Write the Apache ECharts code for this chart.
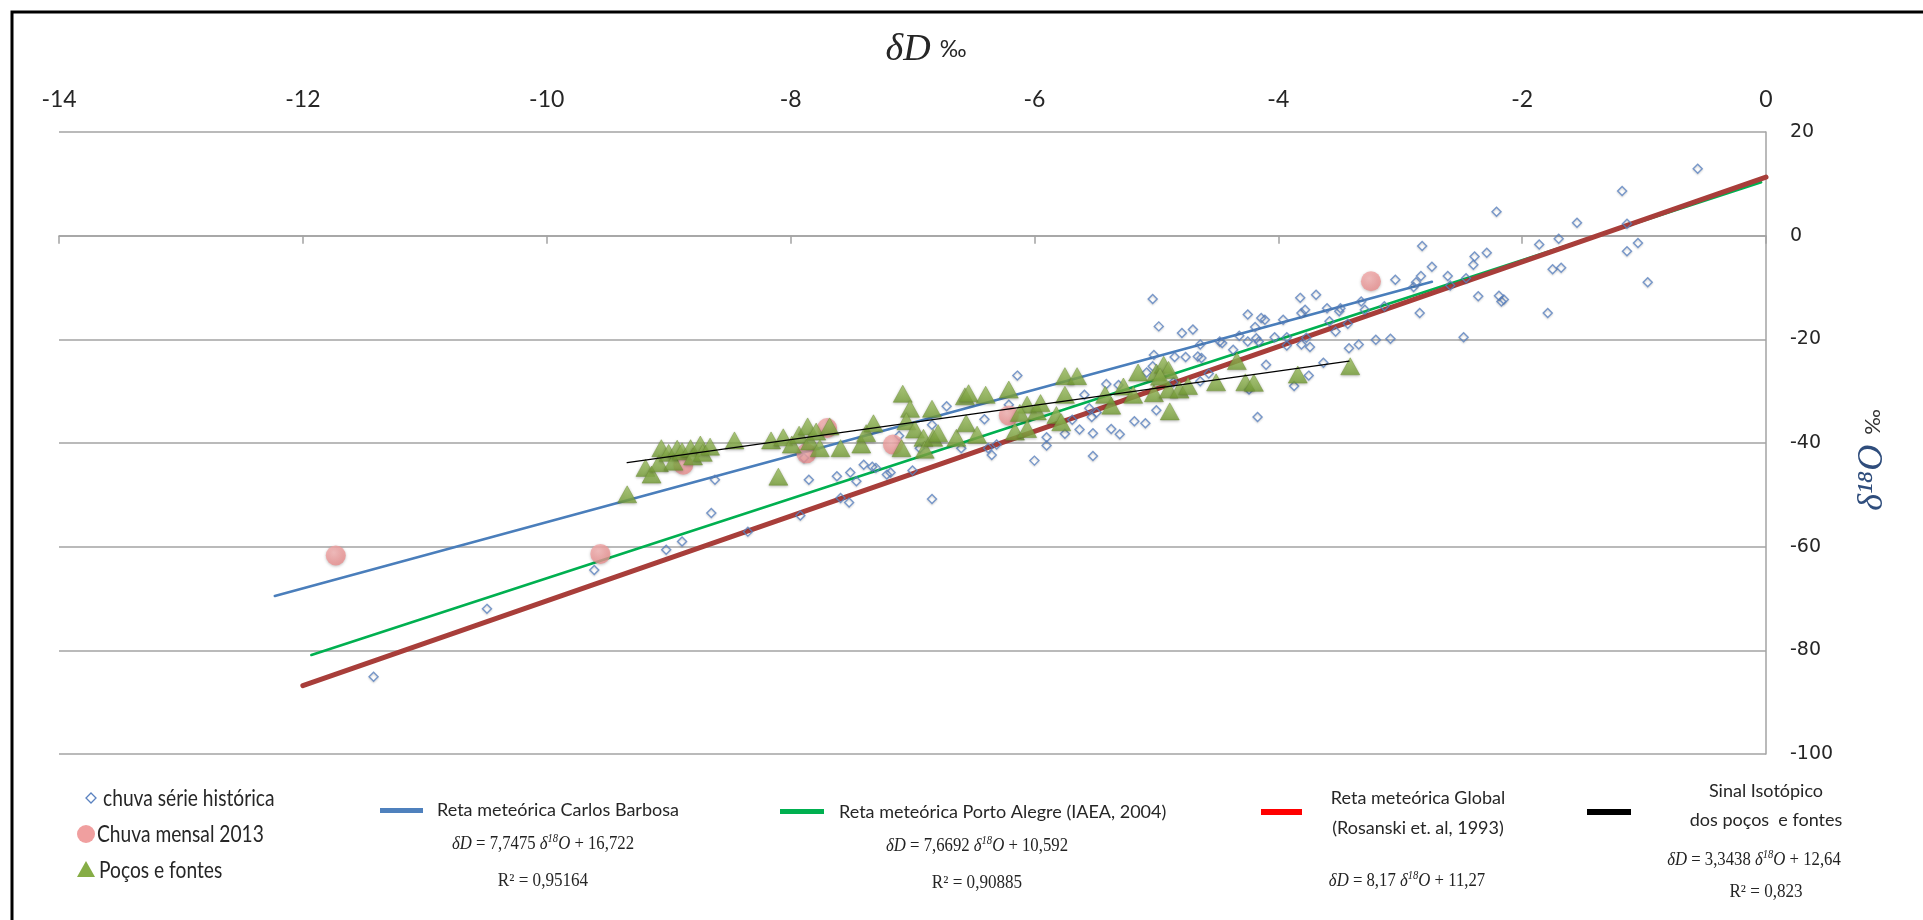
<!DOCTYPE html>
<html>
<head>
<meta charset="utf-8">
<script src="https://cdn.jsdelivr.net/npm/echarts@6/dist/echarts.min.js"></script>
<style>
  html, body { margin: 0; padding: 0; background: #ffffff; }
  #chart { width: 1923px; height: 920px; }
</style>
</head>
<body>
<div id="chart"></div>
<script>
// Axis ranges: [min, max, interval]
const xTickRange = [-14, 0, 2];
const yTickRange = [-100, 20, 20];

// Historical rainfall samples [δ18O, δD]
const historicalRain = [
  [-11.42, -85.1], [-10.49, -72.0], [-9.61, -64.5], [-9.02, -60.6],
  [-8.62, -47.1], [-8.65, -53.5], [-8.89, -59.0], [-8.35, -57.1], [-7.92, -54.0],
  [-7.89, -42.9], [-7.85, -47.1], [-7.62, -46.4], [-7.59, -50.6], [-7.52, -51.5],
  [-7.51, -45.7], [-7.46, -47.4], [-7.40, -44.2], [-7.33, -44.6], [-7.30, -44.8],
  [-7.21, -46.1], [-7.18, -45.7], [-7.00, -45.3], [-6.84, -50.8], [-7.11, -38.6],
  [-6.94, -41.0], [-6.84, -36.5], [-6.72, -32.9], [-6.60, -41.0], [-6.41, -35.4],
  [-6.38, -41.0], [-6.35, -42.3], [-6.31, -40.3],
  [-6.14, -27.0], [-5.03, -12.2], [-4.98, -17.5], [-4.79, -18.8], [-4.70, -18.1],
  [-4.64, -21.0], [-5.02, -23.0], [-4.85, -23.4], [-4.76, -23.4], [-4.66, -23.3],
  [-4.63, -23.6], [-4.57, -26.6], [-5.08, -26.4], [-5.03, -25.2], [-5.41, -28.6],
  [-5.31, -28.8], [-5.59, -30.7], [-5.55, -33.3], [-5.53, -35.0], [-5.49, -34.1],
  [-5.63, -37.4], [-5.52, -38.1], [-5.75, -38.2], [-5.90, -38.9], [-5.90, -40.5],
  [-6.00, -43.4], [-5.52, -42.5], [-5.37, -37.3], [-5.30, -38.3], [-5.18, -35.8],
  [-5.09, -36.2], [-5.00, -33.7], [-4.86, -28.3], [-5.69, -35.5], [-6.21, -32.6],
  [-4.64, -28.1], [-4.48, -20.4], [-4.46, -20.7], [-4.37, -22.0], [-4.32, -19.3],
  [-4.25, -15.2], [-4.19, -17.6], [-4.18, -19.8], [-4.11, -16.2], [-4.14, -15.9],
  [-4.25, -20.4], [-4.16, -20.4], [-4.10, -24.9], [-4.03, -19.6], [-3.96, -16.2],
  [-3.93, -19.6], [-3.93, -21.2], [-3.82, -12.0], [-3.78, -14.3], [-3.81, -14.9],
  [-3.69, -11.4], [-3.81, -21.0], [-3.74, -21.5], [-3.77, -19.7], [-3.60, -14.0],
  [-3.58, -16.5], [-3.49, -14.0], [-3.50, -14.6], [-3.53, -18.5], [-3.43, -17.0],
  [-3.42, -21.7], [-3.34, -21.0], [-3.32, -12.7], [-3.29, -14.3], [-3.20, -20.1],
  [-3.63, -24.5], [-3.75, -27.0], [-3.87, -29.0], [-4.17, -35.0], [-4.24, -29.7],
  [-0.56, 12.9], [-1.18, 8.6], [-1.14, 2.3], [-1.14, -3.0], [-1.05, -1.4],
  [-0.97, -9.0], [-1.55, 2.5], [-1.70, -0.6], [-1.86, -1.7], [-1.75, -6.5],
  [-1.68, -6.2], [-1.79, -14.9], [-2.21, 4.6], [-2.29, -3.3], [-2.39, -4.0],
  [-2.40, -5.6], [-2.46, -8.2], [-2.61, -7.8], [-2.59, -9.6], [-2.74, -6.0],
  [-2.82, -2.0], [-2.83, -7.8], [-2.89, -9.9], [-2.87, -9.0], [-3.04, -8.5],
  [-3.13, -13.6], [-2.84, -14.9], [-3.08, -19.9], [-2.48, -19.6], [-2.36, -11.7],
  [-2.19, -11.6], [-2.17, -12.7], [-2.15, -12.3]
];

// Monthly rainfall 2013 [δ18O, δD]
const monthlyRain2013 = [
  [-11.73, -61.7], [-9.56, -61.4], [-8.88, -44.2], [-7.87, -42.0],
  [-7.70, -37.1], [-7.16, -40.3], [-6.21, -34.7], [-3.24, -8.8]
];

// Wells and springs [δ18O, δD]
const wellsAndSprings = [
  [-9.34, -49.9], [-9.19, -44.8], [-9.14, -46.1], [-9.08, -43.9], [-9.06, -41.0],
  [-9.00, -41.9], [-8.96, -43.6], [-8.93, -41.1], [-8.89, -41.6], [-8.82, -41.0],
  [-8.80, -42.6], [-8.74, -40.3], [-8.72, -41.9], [-8.66, -40.7], [-8.46, -39.5],
  [-8.16, -39.5], [-8.10, -46.5], [-8.06, -38.9], [-7.99, -40.3], [-7.93, -38.4],
  [-7.86, -36.8], [-7.84, -39.7], [-7.79, -37.8], [-7.76, -41.0], [-7.68, -36.8],
  [-7.59, -41.0], [-7.42, -40.3], [-7.38, -38.1], [-7.32, -36.2], [-7.08, -30.5],
  [-7.02, -33.4], [-7.09, -41.0], [-7.05, -35.8], [-6.98, -37.4], [-6.91, -39.0],
  [-6.90, -41.3], [-6.84, -33.4], [-6.83, -39.0], [-6.79, -38.1], [-6.64, -39.0],
  [-6.57, -31.0], [-6.54, -30.4], [-6.56, -36.2], [-6.47, -38.4], [-6.40, -30.7],
  [-6.21, -29.7], [-5.75, -27.1], [-5.65, -27.1], [-5.75, -30.7], [-6.06, -32.6],
  [-5.98, -33.9], [-5.95, -32.3], [-6.12, -34.2], [-6.16, -37.8], [-6.06, -37.3],
  [-5.82, -34.6], [-5.78, -36.0], [-5.37, -32.8], [-5.42, -30.7], [-5.27, -29.1],
  [-5.19, -30.7], [-5.15, -26.4], [-5.00, -26.4], [-4.94, -24.9], [-4.90, -25.9],
  [-5.02, -30.4], [-4.90, -29.7], [-4.81, -29.7], [-4.74, -29.0], [-4.89, -33.9],
  [-4.51, -28.3], [-4.34, -24.2], [-4.27, -28.3], [-4.20, -28.4], [-3.84, -26.8],
  [-3.41, -25.2], [-4.97, -27.2]
];

// Meteoric water lines, end points [δ18O, δD]
const lineCarlosBarbosa = [[-12.23, -69.5], [-2.74, -8.9]];
const linePortoAlegre = [[-11.93, -80.9], [-0.04, 10.3]];
const lineGlobal = [[-12.0, -86.8], [0, 11.3]];
const lineWells = [[-9.34, -43.8], [-3.42, -24.2]];

// Legend texts
const scatterLegend = ['chuva série histórica', 'Chuva mensal 2013', 'Poços e fontes'];
const lineLegend = [
  'Reta meteórica Carlos Barbosa',
  'Reta meteórica Porto Alegre (IAEA, 2004)',
  ['Reta meteórica Global', '(Rosanski et. al, 1993)'],
  ['Sinal Isotópico', 'dos poços  e fontes']
];
const equations = [
  ['7,7475', '16,722', 'R² = 0,95164'],
  ['7,6692', '10,592', 'R² = 0,90885'],
  ['8,17', '11,27', ''],
  ['3,3438', '12,64', 'R² = 0,823']
];

const chart = echarts.init(document.getElementById('chart'), null, { renderer: 'canvas' });

const sans = 'Lato, "Open Sans", sans-serif';
const serif = '"Liberation Serif", "DejaVu Serif", serif';
const greyLine = '#a3a3a3';
const textColor = '#262626';

const diamondStyle = {
  color: 'rgba(255,255,255,0)',
  borderColor: '#5a82c0',
  borderWidth: 1.4,
  shadowBlur: 2,
  shadowColor: 'rgba(0,0,0,0.25)',
  shadowOffsetY: 1
};
const circleStyle = {
  color: new echarts.graphic.RadialGradient(0.4, 0.35, 0.7, [
    { offset: 0, color: '#f8b6b6' },
    { offset: 1, color: '#ea8b8b' }
  ]),
  shadowBlur: 3,
  shadowColor: 'rgba(0,0,0,0.3)',
  shadowOffsetY: 1
};
const triangleStyle = {
  color: new echarts.graphic.LinearGradient(0, 0, 0, 1, [
    { offset: 0, color: '#a6c968' },
    { offset: 1, color: '#77a038' }
  ]),
  borderColor: '#6d9133',
  borderWidth: 0.6,
  shadowBlur: 3,
  shadowColor: 'rgba(0,0,0,0.3)',
  shadowOffsetY: 1
};

function lineSeries(name, data, color, width, z) {
  return {
    name, type: 'line', data, z,
    symbol: 'none', silent: true, animation: false,
    lineStyle: { color, width, cap: 'round' }
  };
}

function equationText(i, x, y) {
  const eq = equations[i];
  return {
    type: 'text', x, y, scaleX: 0.88, silent: true,
    style: {
      text: '{i|δD} = ' + eq[0] + ' {i|δ}{s|18}{i|O} + ' + eq[1],
      font: '19px ' + serif,
      fill: '#222',
      align: 'center', verticalAlign: 'middle',
      textAlign: 'center', textVerticalAlign: 'middle',
      rich: {
        i: { fontStyle: 'italic', fontSize: 19, fontFamily: serif, fill: '#222' },
        s: { fontStyle: 'italic', fontSize: 12, fontFamily: serif, fill: '#222', padding: [0, 0, 10, 0] }
      }
    }
  };
}

function plainText(text, x, y, font, align, scaleX) {
  return {
    type: 'text', x, y, scaleX: scaleX || 1, silent: true,
    style: {
      text, font, fill: textColor,
      align: align || 'left', verticalAlign: 'middle',
      textAlign: align || 'left', textVerticalAlign: 'middle'
    }
  };
}

const legendFont = '24px ' + sans;
const lineFont = '18px ' + sans;
const rFont = '18px ' + serif;

const graphics = [
  // outer frame
  { type: 'polyline', silent: true, shape: { points: [[12, 940], [12, 12], [1940, 12]] },
    style: { stroke: '#000', lineWidth: 3, fill: null } },
  // top axis title
  { type: 'text', x: 926, y: 50, silent: true,
    style: {
      text: '{a|δD}{b|‰}', align: 'center', verticalAlign: 'middle',
      textAlign: 'center', textVerticalAlign: 'middle',
      rich: {
        a: { fontFamily: serif, fontStyle: 'italic', fontSize: 38, fill: textColor },
        b: { fontFamily: sans, fontSize: 23, fill: textColor, padding: [0, 0, 0, 9] }
      }
    } },
  // right axis title (rotated)
  { type: 'text', x: 1873, y: 460, rotation: Math.PI / 2, silent: true,
    style: {
      text: '{a|δ¹⁸O}{b|‰}', align: 'center', verticalAlign: 'middle',
      textAlign: 'center', textVerticalAlign: 'middle',
      rich: {
        a: { fontFamily: serif, fontStyle: 'italic', fontSize: 36, fill: '#2f4d7c' },
        b: { fontFamily: sans, fontSize: 22, fill: '#333', padding: [0, 0, 0, 10] }
      }
    } },

  // scatter legend
  { type: 'polygon', silent: true, shape: { points: [[91, 793], [96, 798], [91, 803], [86, 798]] },
    style: { stroke: '#5a82c0', lineWidth: 1.3, fill: 'rgba(0,0,0,0)' } },
  plainText(scatterLegend[0], 103, 798, legendFont, 'left', 0.8),
  { type: 'circle', silent: true, shape: { cx: 86, cy: 834, r: 9 },
    style: { fill: '#f09f9f' } },
  plainText(scatterLegend[1], 97, 834, legendFont, 'left', 0.8),
  { type: 'polygon', silent: true, shape: { points: [[86, 861], [95, 877], [77, 877]] },
    style: { fill: '#86ad46' } },
  plainText(scatterLegend[2], 99, 870, legendFont, 'left', 0.8),

  // line legend: Carlos Barbosa
  { type: 'rect', silent: true, shape: { x: 380, y: 808, width: 43, height: 5 }, style: { fill: '#4f81bd' } },
  plainText(lineLegend[0], 437, 810, lineFont),
  equationText(0, 543, 844),
  plainText(equations[0][2], 543, 881, rFont, 'center', 0.95),

  // Porto Alegre
  { type: 'rect', silent: true, shape: { x: 780, y: 809, width: 44, height: 5 }, style: { fill: '#00b050' } },
  plainText(lineLegend[1], 839, 812, lineFont),
  equationText(1, 977, 846),
  plainText(equations[1][2], 977, 883, rFont, 'center', 0.95),

  // Global
  { type: 'rect', silent: true, shape: { x: 1261, y: 809, width: 41, height: 6 }, style: { fill: '#ff0000' } },
  plainText(lineLegend[2][0], 1418, 798, lineFont, 'center'),
  plainText(lineLegend[2][1], 1418, 828, lineFont, 'center'),
  equationText(2, 1407, 881),

  // Wells and springs trend
  { type: 'rect', silent: true, shape: { x: 1587, y: 809, width: 44, height: 6 }, style: { fill: '#000000' } },
  plainText(lineLegend[3][0], 1766, 791, lineFont, 'center'),
  plainText(lineLegend[3][1], 1766, 820, lineFont, 'center'),
  equationText(3, 1754, 860),
  plainText(equations[3][2], 1766, 892, rFont, 'center', 0.95)
];

const option = {
  animation: false,
  backgroundColor: '#ffffff',
  grid: { left: 59, top: 132, width: 1707, height: 622, containLabel: false },
  xAxis: [
    {
      type: 'value', position: 'top',
      min: xTickRange[0], max: xTickRange[1], interval: xTickRange[2],
      axisLine: { show: false, onZero: false },
      axisTick: { show: false },
      splitLine: { show: false },
      axisLabel: { margin: 21, fontFamily: sans, fontSize: 23, color: textColor }
    },
    {
      type: 'value', position: 'bottom',
      min: xTickRange[0], max: xTickRange[1], interval: xTickRange[2],
      axisLine: { show: true, onZero: true, lineStyle: { color: greyLine, width: 1.5 } },
      axisTick: { show: true, length: 8, lineStyle: { color: greyLine, width: 1.5 } },
      splitLine: { show: false },
      axisLabel: { show: false }
    }
  ],
  yAxis: {
    type: 'value', position: 'right',
    min: yTickRange[0], max: yTickRange[1], interval: yTickRange[2],
    axisLine: { show: true, onZero: false, lineStyle: { color: greyLine, width: 1.5 } },
    axisTick: { show: false },
    splitLine: { show: true, lineStyle: { color: greyLine, width: 1.5 } },
    axisLabel: { margin: 24, fontFamily: '"DejaVu Sans", Verdana, sans-serif', fontSize: 19, color: textColor }
  },
  graphic: graphics,
  series: [
    lineSeries('Reta meteórica Porto Alegre', linePortoAlegre, '#00b050', 2.6, 2),
    lineSeries('Reta meteórica Global', lineGlobal, '#a83e3a', 5, 2),
    lineSeries('Reta meteórica Carlos Barbosa', lineCarlosBarbosa, '#4a7ebb', 2.6, 2),
    {
      name: scatterLegend[0], type: 'scatter', data: historicalRain, z: 3,
      symbol: 'diamond', symbolSize: 9, itemStyle: diamondStyle, silent: true
    },
    {
      name: scatterLegend[1], type: 'scatter', data: monthlyRain2013, z: 3,
      symbol: 'circle', symbolSize: 20, itemStyle: circleStyle, silent: true
    },
    {
      name: scatterLegend[2], type: 'scatter', data: wellsAndSprings, z: 3,
      symbol: 'triangle', symbolSize: [19, 17], itemStyle: triangleStyle, silent: true
    },
    lineSeries('Sinal Isotópico dos poços e fontes', lineWells, '#000000', 1.3, 4)
  ]
};

chart.setOption(option);
</script>
</body>
</html>
